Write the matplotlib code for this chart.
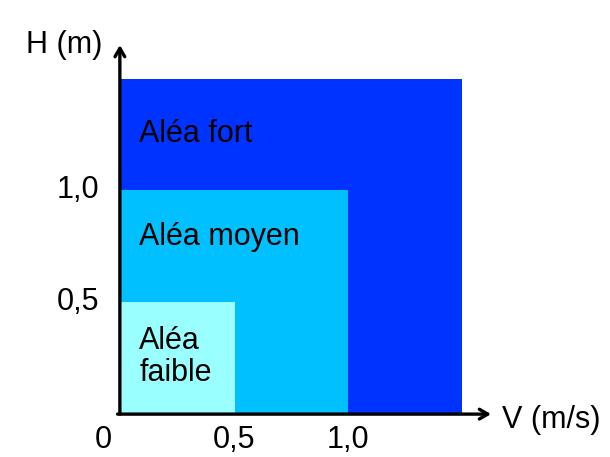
import matplotlib.pyplot as plt
from matplotlib.patches import Rectangle

plt.rcParams['font.family'] = ['Liberation Sans', 'DejaVu Sans']

# hazard zones: (label, max speed V, max height H, colour)
labels = ['Aléa fort', 'Aléa moyen', 'Aléa\nfaible']
v_max = [1.5, 1.0, 0.5]
h_max = [1.5, 1.0, 0.5]
colors = ['#0033ff', '#00c0ff', '#99ffff']
label_y = [1.25, 0.79, 0.25]

x_ticks = [0.5, 1.0]
x_ticklabels = ['0,5', '1,0']
y_ticks = [0.5, 1.0]
y_ticklabels = ['0,5', '1,0']

fs = 22

fig = plt.figure(figsize=(6.10, 4.57), dpi=100)
ax = fig.add_axes([0, 0, 1, 1])
ax.set_xlim(-121 / 227, 489 / 227)
ax.set_ylim(-44 / 223, 413 / 223)
ax.axis('off')

for lab, v, h, c, ly in zip(labels, v_max, h_max, colors, label_y):
    ax.add_patch(Rectangle((0, 0), v, h, facecolor=c, edgecolor='none', zorder=1))
    ax.text(0.08, ly, lab, fontsize=fs, va='center', ha='left', zorder=3,
            linespacing=1.1)

# axes with open arrowheads
arrow = dict(arrowstyle='->,head_length=0.6,head_width=0.35', lw=2.4, color='black',
             shrinkA=0, shrinkB=0)
ax.annotate('', xy=(-0.005, 1.65), xytext=(-0.005, -0.005), arrowprops=arrow, zorder=4)
ax.annotate('', xy=(1.63, -0.005), xytext=(-0.015, -0.005), arrowprops=arrow, zorder=4)

for t, tl in zip(x_ticks, x_ticklabels):
    ax.text(t, -0.12, tl, fontsize=fs, ha='center', va='center')
ax.text(-0.08, -0.12, '0', fontsize=fs, ha='center', va='center')
for t, tl in zip(y_ticks, y_ticklabels):
    ax.text(-0.19, t, tl, fontsize=fs, ha='center', va='center')

ax.text(-0.08, 1.65, 'H (m)', fontsize=fs, ha='right', va='center')
ax.text(1.68, -0.03, 'V (m/s)', fontsize=fs, ha='left', va='center')

fig.savefig('out.png', dpi=100)
